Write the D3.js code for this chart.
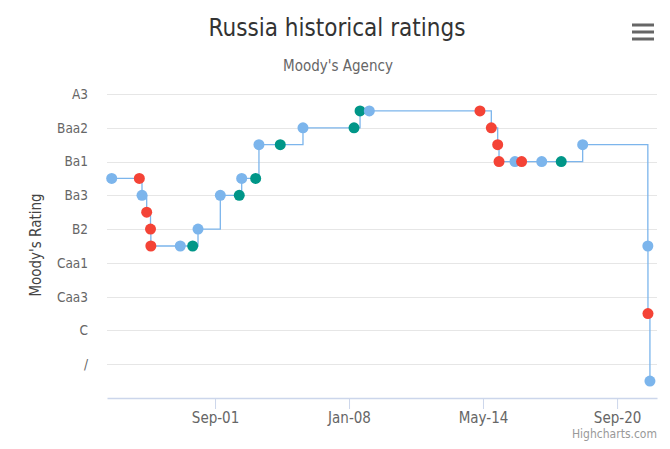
<!DOCTYPE html>
<html>
<head>
<meta charset="utf-8">
<script src="https://cdn.jsdelivr.net/npm/d3@7"></script>
<style>
	body { margin: 0; background: #ffffff; }
	text { font-family: "DejaVu Sans Condensed", "DejaVu Sans", sans-serif; }
</style>
</head>
<body>
<div id="chart"></div>
<script>
// Escala de ratings da Moody's (de cima para baixo)
var ratings = ["A3","Baa1","Baa2","Baa3","Ba1","Ba2","Ba3","B1","B2","B3","Caa1","Caa2","Caa3","Ca","C","SD","/","WR",""];

// Rotulos mostrados no eixo y (um a cada dois ratings)
var yTickLabels = ["A3","Baa2","Ba1","Ba3","B2","Caa1","Caa3","C","/"];

// Datas dos eventos
var dates = ["1996-10-13","1998-02-02","1998-03-20","1998-06-09","1998-08-14","1998-08-20",
	"2000-01-10","2000-08-11","2000-11-11","2001-12-01","2002-10-24","2002-12-05",
	"2003-08-03","2003-09-29","2004-10-01","2005-10-28","2008-03-27","2008-07-09",
	"2008-12-16","2014-03-10","2014-09-22","2015-01-10","2015-02-02","2015-11-04",
	"2016-02-27","2017-02-08","2018-01-11","2019-01-16","2022-02-14","2022-02-16",
	"2022-03-22"];

// Rating em cada data
var values = ["Ba2","Ba2","Ba3","B1","B2","B3",
	"B3","B3","B2","Ba3","Ba3","Ba2",
	"Ba2","Baa3","Baa3","Baa2","Baa2","Baa1",
	"Baa1","Baa1","Baa2","Baa3","Ba1","Ba1",
	"Ba1","Ba1","Ba1","Baa3","B3","Ca",
	"WR"];

// Perspectiva: s = estavel, n = negativa, p = positiva
var outlooks = ["s","n","s","n","n","n",
	"s","p","s","s","p","s",
	"p","s","p","s","p","p",
	"s","n","n","n","n","s",
	"n","s","p","s","s","n",
	"s"];

// Eixo x
var xTicks = ["2001-09-01","2008-01-01","2014-05-01","2020-09-01"];
var xDomain = ["1996-07-24","2022-07-22"];

var colors = {s: "#7cb5ec", n: "#f44336", p: "#009688"};

// Tamanho do svg
var w = 670;
var h = 449;

// Area do grafico
var margin = {top: 94, right: 13, bottom: 51, left: 107};
var width = w - margin.left - margin.right;
var height = h - margin.top - margin.bottom;

var parse = d3.timeParse("%Y-%m-%d");
var fmt = d3.timeFormat("%b-%y");

var data = dates.map(function(d, i) {
	return {date: parse(d), rating: values[i], outlook: outlooks[i]};
});

var svg = d3.select("#chart")
	.append("svg")
	.attr("width", w)
	.attr("height", h);

var g = svg.append("g")
	.attr("transform", "translate(" + margin.left + "," + margin.top + ")");

// Scale x
var x = d3.scaleTime()
	.domain(xDomain.map(parse))
	.range([0, width]);

// Scale y (indice do rating)
var y = d3.scaleLinear()
	.domain([0, ratings.length - 1])
	.range([0, height]);

function yPos(r) {
	return y(ratings.indexOf(r));
}

// Linhas de grade horizontais
g.selectAll(".grid")
	.data(yTickLabels)
	.enter()
	.append("line")
	.attr("x1", 0)
	.attr("x2", width)
	.attr("y1", function(d) { return Math.round(yPos(d)) + 0.5; })
	.attr("y2", function(d) { return Math.round(yPos(d)) + 0.5; })
	.style("stroke", "#e6e6e6");

// Rotulos do eixo y
g.selectAll(".ylabel")
	.data(yTickLabels)
	.enter()
	.append("text")
	.attr("x", -19)
	.attr("y", function(d) { return yPos(d); })
	.attr("dy", "0.36em")
	.attr("text-anchor", "end")
	.attr("font-size", "13.5px")
	.attr("fill", "#666666")
	.text(function(d) { return d; });

// Eixo x
var xAxis = d3.axisBottom(x)
	.tickValues(xTicks.map(parse))
	.tickFormat(fmt)
	.tickSizeInner(11)
	.tickSizeOuter(0)
	.tickPadding(3);

var xg = g.append("g")
	.attr("transform", "translate(0," + height + ")")
	.call(xAxis);
xg.select(".domain").attr("stroke", "#ccd6eb").attr("stroke-width", 1.5);
xg.selectAll(".tick line").attr("stroke", "#ccd6eb");
xg.selectAll(".tick text")
	.attr("fill", "#666666")
	.attr("font-size", "15px")
	.attr("font-family", "DejaVu Sans Condensed, DejaVu Sans, sans-serif");

// Linha em degraus
var line = d3.line()
	.curve(d3.curveStepAfter)
	.x(function(d) { return x(d.date); })
	.y(function(d) { return yPos(d.rating); });

g.append("path")
	.datum(data)
	.attr("d", line)
	.attr("fill", "none")
	.attr("stroke", "#7cb5ec")
	.attr("stroke-width", 1.3);

// Pontos
g.selectAll(".point")
	.data(data)
	.enter()
	.append("circle")
	.attr("cx", function(d) { return x(d.date); })
	.attr("cy", function(d) { return yPos(d.rating); })
	.attr("r", 5.5)
	.attr("fill", function(d) { return colors[d.outlook]; });

// Titulo do eixo y
svg.append("text")
	.attr("transform", "translate(41,245) rotate(-90)")
	.attr("text-anchor", "middle")
	.attr("font-size", "15px")
	.attr("fill", "#444444")
	.text("Moody's Rating");

// Titulo e subtitulo
svg.append("text")
	.attr("x", 337)
	.attr("y", 36)
	.attr("text-anchor", "middle")
	.attr("font-size", "24px")
	.attr("fill", "#333333")
	.text("Russia historical ratings");

svg.append("text")
	.attr("x", 338)
	.attr("y", 71)
	.attr("text-anchor", "middle")
	.attr("font-size", "15px")
	.attr("fill", "#666666")
	.text("Moody's Agency");

// Creditos
svg.append("text")
	.attr("x", 657)
	.attr("y", 438)
	.attr("text-anchor", "end")
	.attr("font-size", "12px")
	.attr("fill", "#999999")
	.text("Highcharts.com");

// Menu (hamburguer)
svg.selectAll(".menu")
	.data([25, 32, 39])
	.enter()
	.append("rect")
	.attr("x", 632)
	.attr("y", function(d) { return d - 1.5; })
	.attr("width", 22)
	.attr("height", 3)
	.attr("fill", "#666666");
</script>
</body>
</html>
